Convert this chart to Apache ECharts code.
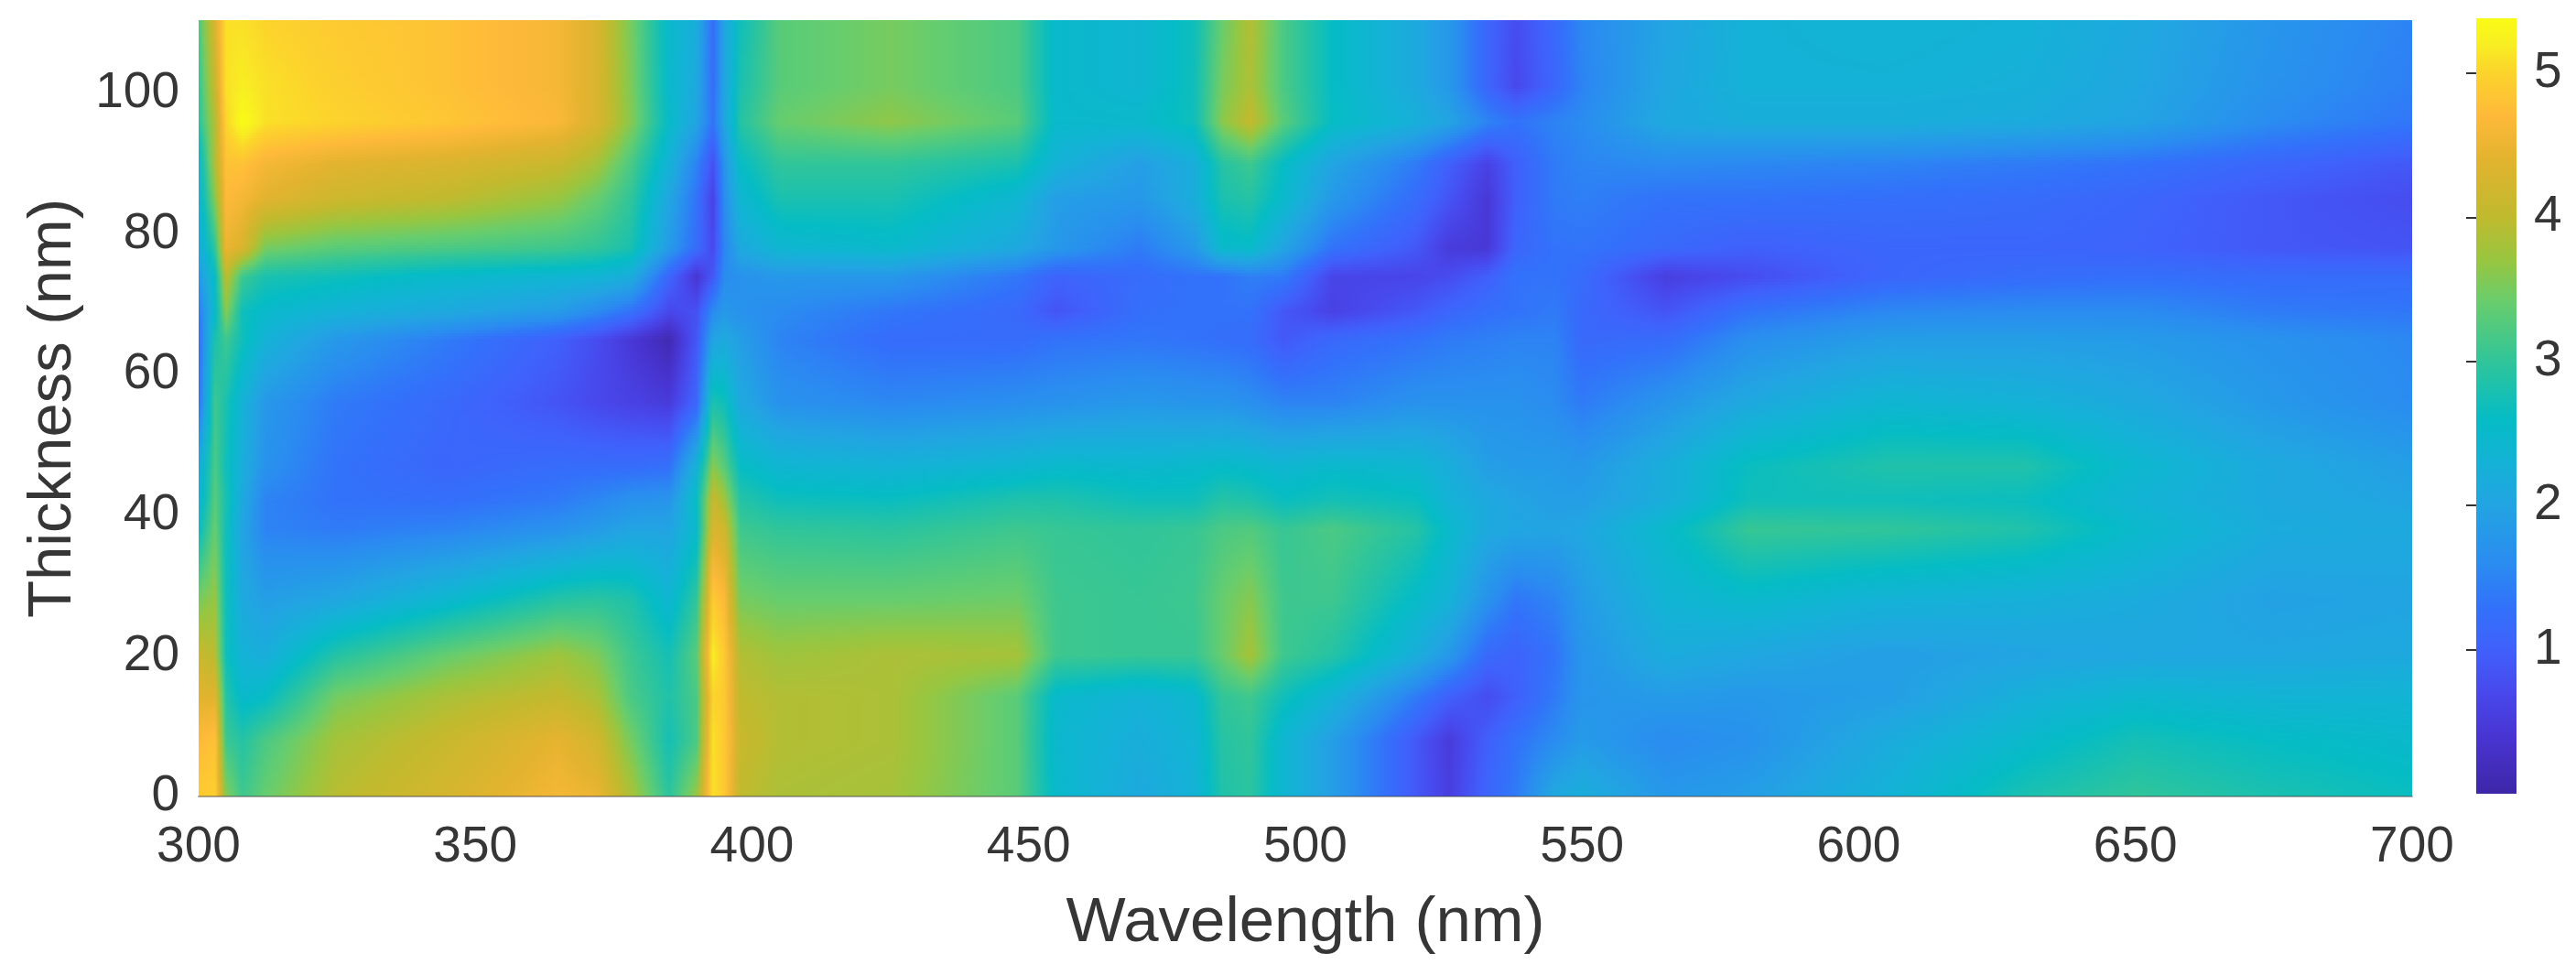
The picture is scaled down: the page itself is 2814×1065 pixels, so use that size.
<!DOCTYPE html>
<html><head><meta charset="utf-8">
<style>html,body{margin:0;padding:0;background:#fff}#c{width:2814px;height:1065px}</style>
<script src="https://cdn.jsdelivr.net/npm/echarts@6/dist/echarts.min.js"></script>
</head><body><div id="c"></div>
<script>
const wavelengths = [300,303,305,308,312,325,345,365,372,378,385,390,393,395,398,405,425,448,455,470,480,485,490,496,505,520,526,533,538,545,550,565,580,605,630,650,675,700];
const thicknesses = [0,8,14,20,28,38,42,47,56,65,69,74,78,85,90,96,101,110.4];
const xTicks = {min:300,max:700,step:50};
const yTicks = {min:0,max:110.4,step:20};
const t0   = [4.9,4.95,3.6,3.1,3.4,3.95,4.25,4.6,4.5,3.85,2.95,3.7,5.1,4.9,4.0,3.85,3.8,3.3,2.5,2.1,2.3,2.85,2.95,2.4,1.9,0.9,0.55,1.1,1.4,2.1,2.2,1.8,1.9,2.3,2.8,3.0,2.8,2.65];
const t8   = [4.7,4.8,3.1,2.9,3.2,3.8,4.1,4.45,4.2,3.5,2.75,3.2,5.1,4.9,4.1,3.9,3.85,3.3,2.45,2.2,2.35,2.9,3.0,2.4,1.9,0.9,0.5,1.0,1.3,1.6,1.85,1.6,1.7,2.15,2.5,2.75,2.6,2.5];
const t14  = [4.4,4.4,2.9,2.5,2.6,3.5,3.85,4.05,3.85,3.2,2.85,3.2,5.0,4.9,4.0,3.9,3.85,3.3,2.5,2.3,2.45,3.0,3.1,2.7,2.3,1.4,1.0,0.75,1.0,1.4,1.75,1.85,1.8,1.9,2.25,2.45,2.35,2.35];
const t20  = [4.1,3.95,2.7,2.3,2.2,2.9,3.4,3.75,3.55,3.1,2.75,3.3,5.2,4.9,3.9,3.75,3.85,3.8,3.1,3.05,3.05,3.4,3.8,3.1,2.9,2.2,1.8,1.15,1.05,1.3,1.75,2.15,2.05,1.9,2.0,2.05,2.05,2.1];
const t28  = [3.5,3.7,2.7,2.1,1.9,2.05,2.45,2.9,2.95,2.85,2.4,3.0,4.9,4.7,3.5,3.4,3.4,3.45,3.1,3.05,3.1,3.4,3.6,3.1,3.1,2.55,2.3,1.7,1.35,1.5,1.85,2.35,2.5,2.3,2.25,2.15,1.95,2.0];
const t38  = [2.6,3.4,2.7,2.0,1.5,1.4,1.5,1.7,1.85,2.0,2.0,2.5,4.3,4.2,3.1,3.0,2.95,3.1,3.05,3.0,3.05,3.2,3.25,3.05,3.2,2.9,2.5,2.1,2.05,2.0,2.05,2.5,3.05,3.0,2.85,2.5,2.15,2.1];
const t42  = [2.3,3.3,2.8,2.1,1.5,1.3,1.25,1.4,1.55,1.7,1.75,2.6,4.1,3.8,2.9,2.7,2.65,2.85,2.85,2.7,2.7,2.9,2.85,2.65,2.75,2.65,2.3,2.1,2.0,1.9,1.9,2.2,2.7,2.7,2.65,2.35,2.1,2.0];
const t47  = [2.1,3.2,2.7,2.2,1.7,1.3,1.1,1.2,1.2,1.2,1.25,2.3,3.6,3.3,2.6,2.4,2.3,2.4,2.5,2.45,2.5,2.55,2.5,2.4,2.5,2.4,2.2,1.9,1.85,1.85,1.8,2.2,2.65,2.85,2.85,2.45,2.1,1.9];
const t56  = [1.3,3.1,2.8,2.3,1.8,1.4,1.15,0.85,0.7,0.6,0.5,1.1,2.8,2.7,2.1,1.7,1.55,1.65,1.7,1.8,1.75,1.75,1.65,1.5,1.5,1.7,1.7,1.7,1.7,1.6,1.4,1.75,2.1,2.4,2.3,2.1,1.8,1.6];
const t65  = [1.2,2.8,3.1,2.7,2.3,1.8,1.4,1.0,0.75,0.45,0.1,0.9,2.0,2.1,1.9,1.5,1.2,1.2,1.3,1.35,1.3,1.25,1.2,0.9,1.15,1.3,1.4,1.45,1.5,1.5,1.15,1.2,1.65,1.9,1.9,1.85,1.7,1.55];
const t69  = [1.4,2.5,3.6,2.7,2.5,2.3,2.1,1.85,1.6,1.3,0.7,0.8,1.6,1.8,1.7,1.6,1.35,1.15,0.85,1.25,1.3,1.3,1.3,0.9,0.6,0.9,1.1,1.25,1.3,1.4,1.15,0.85,1.3,1.55,1.6,1.6,1.4,1.35];
const t74  = [1.8,2.6,4.0,3.1,2.8,2.7,2.5,2.4,2.35,2.2,1.1,0.4,0.9,1.6,1.7,1.8,1.8,1.35,1.05,1.2,1.3,1.3,1.45,1.4,0.65,0.65,0.75,1.0,1.3,1.3,1.2,0.55,0.75,1.1,1.2,1.25,1.2,1.2];
const t78  = [2.1,3.0,4.5,4.3,3.5,3.3,3.2,3.1,3.0,2.8,1.85,1.2,0.7,1.5,2.1,2.4,2.5,2.1,1.8,1.4,1.8,2.5,2.55,2.0,1.3,0.9,0.5,0.45,1.1,1.3,1.32,1.15,1.0,1.1,1.1,1.05,0.9,0.85];
const t85  = [2.3,3.6,4.7,4.6,4.4,4.15,4.0,3.7,3.4,3.0,2.05,1.3,0.6,1.6,2.4,2.8,2.8,2.4,1.9,1.8,2.2,2.8,2.9,2.5,1.8,1.2,0.85,0.45,1.0,1.4,1.45,1.3,1.3,1.25,1.2,1.1,0.9,0.75];
const t90  = [2.4,3.9,4.8,4.8,4.6,4.4,4.3,4.1,3.8,3.2,2.3,1.5,0.8,1.7,2.6,3.0,3.0,2.8,2.3,1.9,2.2,2.9,3.1,2.6,2.0,1.4,1.0,0.6,1.0,1.4,1.52,1.6,1.55,1.5,1.4,1.3,1.1,0.9];
const t96  = [2.9,3.9,5.0,5.38,5.1,5.0,4.85,4.65,4.3,3.6,2.55,2.0,1.3,2.0,2.9,3.4,3.65,3.3,2.5,2.5,2.7,3.6,4.05,3.3,2.6,2.25,2.0,1.5,1.3,1.5,1.6,2.1,2.2,2.2,2.15,2.0,1.6,1.35];
const t101 = [3.0,4.1,5.1,5.2,5.1,4.95,4.8,4.6,4.3,3.55,2.5,2.1,1.2,2.0,2.8,3.3,3.5,3.2,2.5,2.4,2.7,3.5,3.85,3.2,2.6,2.1,1.8,1.1,0.7,1.1,1.5,2.05,2.3,2.3,2.25,2.05,1.7,1.45];
const t110 = [3.2,4.3,5.1,5.1,5.0,4.9,4.8,4.6,4.3,3.5,2.5,2.2,1.2,2.0,2.7,3.3,3.5,3.2,2.5,2.4,2.7,3.4,3.9,3.2,2.6,2.1,1.8,1.1,0.75,1.15,1.55,2.0,2.3,2.35,2.3,2.1,1.75,1.5];
const rows = [t0,t8,t14,t20,t28,t38,t42,t47,t56,t65,t69,t74,t78,t85,t90,t96,t101,t110];
const colorbarLevels = [0,0.4,0.7,1.0,1.3,1.6,2.0,2.3,2.6,3.0,3.4,3.7,4.0,4.4,4.7,5.0,5.2,5.38];
const colorbarColors = ['#3e26a8','#4835d2','#4848ec','#4060fb','#3272fa','#2a8cf0','#22a4e2','#14b2d6','#05bcc5','#30c59a','#66cd6e','#98c640','#c0ba2e','#e2b32e','#feb93a','#fcd32c','#f8ee22','#f9fb15'];
const colorbarTicks = [1,2,3,4,5];
const vMax = 5.38;

const rgb = colorbarColors.map(c=>[1,3,5].map(k=>parseInt(c.substr(k,2),16)));
function colorAt(v){
  if(v<=colorbarLevels[0]) v=colorbarLevels[0];
  if(v>=vMax) v=vMax;
  let k=0; while(k<colorbarLevels.length-2 && v>colorbarLevels[k+1]) k++;
  const f=(v-colorbarLevels[k])/(colorbarLevels[k+1]-colorbarLevels[k]);
  const a=rgb[k],b=rgb[k+1];
  return 'rgb('+Math.round(a[0]+(b[0]-a[0])*f)+','+Math.round(a[1]+(b[1]-a[1])*f)+','+Math.round(a[2]+(b[2]-a[2])*f)+')';
}
const cells=[];
for(let j=0;j<thicknesses.length-1;j++)for(let i=0;i<wavelengths.length-1;i++)
  cells.push([wavelengths[i],thicknesses[j],rows[j][i],i,j]);

// shading of one data cell (like MATLAB's "shading interp"): colour is blended on screen between its four corner readings
function renderCell(params,api){
  const i=api.value(3),j=api.value(4);
  const p0=api.coord([wavelengths[i],thicknesses[j]]);
  const p1=api.coord([wavelengths[i+1],thicknesses[j+1]]);
  const x0=Math.round(p0[0]),x1=Math.round(p1[0]),yb=Math.round(p0[1]),yt=Math.round(p1[1]);
  const v00=rows[j][i],v10=rows[j][i+1],v01=rows[j+1][i],v11=rows[j+1][i+1];
  const children=[];
  const step=3, nStops=2+Math.ceil((x1-x0)/10);
  for(let y=yt;y<yb;y+=step){
    const h=Math.min(step,yb-y);
    const t=(yb-(y+h/2))/(yb-yt);
    const L=v00+(v01-v00)*t,R=v10+(v11-v10)*t;
    const stops=[];
    for(let s=0;s<nStops;s++){const f=s/(nStops-1);stops.push({offset:f,color:colorAt(L+(R-L)*f)});}
    children.push({type:'rect',shape:{x:x0,y:y,width:x1-x0,height:h},
      style:{fill:new echarts.graphic.LinearGradient(0,0,1,0,stops)},silent:true});
  }
  return {type:'group',children:children};
}
function renderBar(params,api){
  const a=api.coord([0,0]),b=api.coord([1,vMax]);
  const stops=colorbarLevels.map((v,k)=>({offset:v/vMax,color:colorbarColors[k]}));
  return {type:'rect',shape:{x:a[0],y:b[1],width:b[0]-a[0],height:a[1]-b[1]},
    style:{fill:new echarts.graphic.LinearGradient(0,1,0,0,stops)},silent:true};
}
const font='"Liberation Sans",Arial,sans-serif', ink='#363636';
const chart=echarts.init(document.getElementById('c'),null,{renderer:'canvas',width:2814,height:1065});
chart.setOption({
  animation:false,backgroundColor:'#fff',
  grid:[{left:217,top:22,width:2418,height:848,containLabel:false},{left:2705,top:20,width:44,height:847}],
  xAxis:[{type:'value',gridIndex:0,min:xTicks.min,max:xTicks.max,interval:xTicks.step,z:5,
      name:'Wavelength (nm)',nameLocation:'middle',nameGap:104,
      nameTextStyle:{fontFamily:font,fontSize:69,color:ink},
      axisLine:{show:true,onZero:false,lineStyle:{color:'rgba(70,70,70,0.45)',width:2}},axisTick:{show:false},splitLine:{show:false},
      axisLabel:{fontFamily:font,fontSize:55,color:ink,margin:28}},
    {type:'value',gridIndex:1,min:0,max:1,show:false}],
  yAxis:[{type:'value',gridIndex:0,min:yTicks.min,max:yTicks.max,interval:yTicks.step,z:5,
      name:'Thickness (nm)',nameLocation:'middle',nameGap:125,
      nameTextStyle:{fontFamily:font,fontSize:67,color:ink},
      axisLine:{show:false},axisTick:{show:false},splitLine:{show:false},
      axisLabel:{fontFamily:font,fontSize:55,color:ink,margin:21,showMaxLabel:false,padding:[3,0,0,0]}},
    {type:'value',gridIndex:1,min:0,max:vMax,position:'right',interval:1,z:5,
      axisLine:{show:false},splitLine:{show:false},
      axisTick:{show:true,inside:true,length:11,lineStyle:{color:'#333',width:2}},
      axisLabel:{fontFamily:font,fontSize:55,color:ink,margin:19,showMaxLabel:false,showMinLabel:false,padding:[5,0,0,0],
        formatter:v=>colorbarTicks.indexOf(v)>=0?String(v):''}}],
  series:[
    {type:'custom',name:'Thickness map',xAxisIndex:0,yAxisIndex:0,coordinateSystem:'cartesian2d',
     renderItem:renderCell,data:cells,encode:{x:0,y:1},progressive:0,silent:true,clip:true},
    {type:'custom',name:'Colorbar',xAxisIndex:1,yAxisIndex:1,coordinateSystem:'cartesian2d',
     renderItem:renderBar,data:[[0,0]],encode:{x:0,y:1},silent:true}
  ]
});
</script></body></html>
